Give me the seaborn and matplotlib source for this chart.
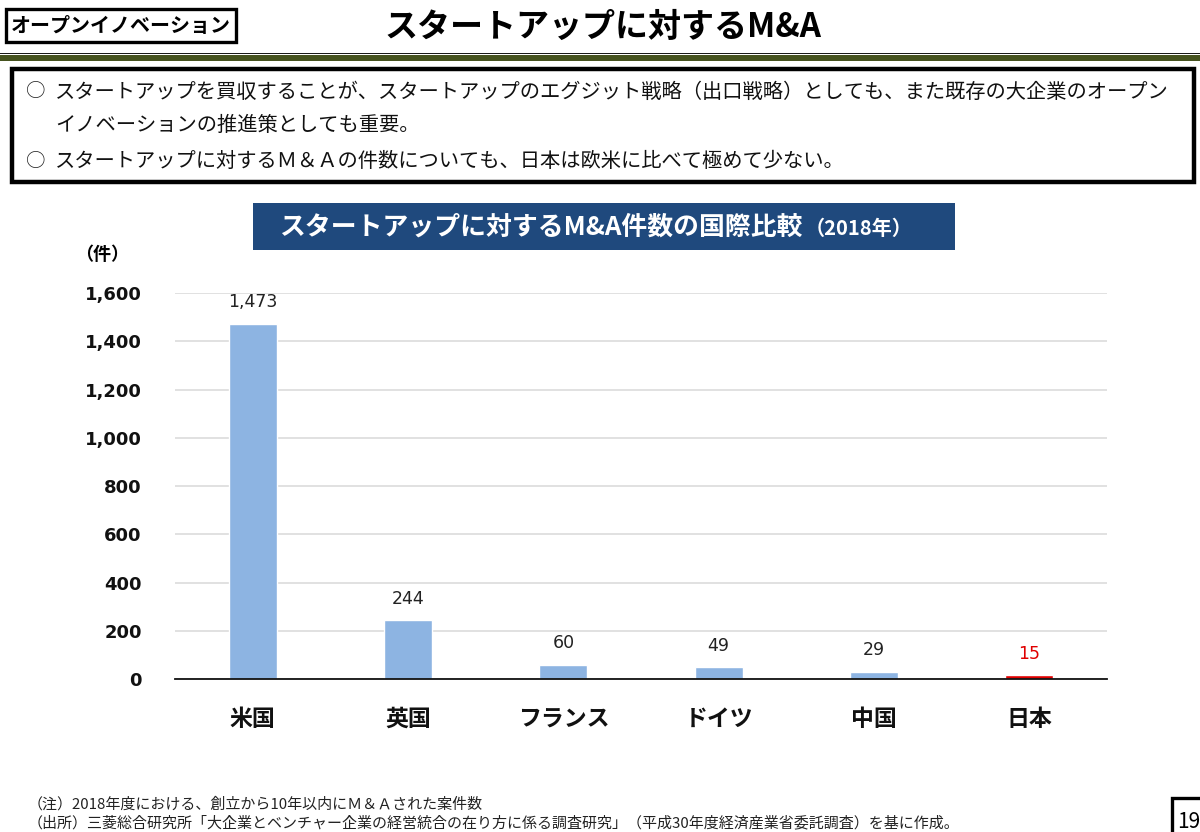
import matplotlib
matplotlib.use("Agg")
import matplotlib.pyplot as plt
import matplotlib.patches as mpatches
import seaborn as sns
import pandas as pd

# ---- data ----
countries = ["米国", "英国", "フランス", "ドイツ", "中国", "日本"]
deals = [1473, 244, 60, 49, 29, 15]
bar_colors = ["#8DB4E2", "#8DB4E2", "#8DB4E2", "#8DB4E2", "#8DB4E2", "#E00000"]
label_colors = ["#222222", "#222222", "#222222", "#222222", "#222222", "#E00000"]
y_ticks = [0, 200, 400, 600, 800, 1000, 1200, 1400, 1600]

header_tag = "オープンイノベーション"
page_title = "スタートアップに対するM&A"
bullets = [
    "スタートアップを買収することが、スタートアップのエグジット戦略（出口戦略）としても、また既存の大企業のオープン",
    "イノベーションの推進策としても重要。",
    "スタートアップに対するＭ＆Ａの件数についても、日本は欧米に比べて極めて少ない。",
]
chart_title = "スタートアップに対するM&A件数の国際比較"
chart_title_year = "（2018年）"
unit_label = "（件）"
notes = [
    "（注）2018年度における、創立から10年以内にＭ＆Ａされた案件数",
    "（出所）三菱総合研究所「大企業とベンチャー企業の経営統合の在り方に係る調査研究」（平成30年度経済産業省委託調査）を基に作成。",
]
page_no = "19"

df = pd.DataFrame({"country": countries, "deals": deals})

sns.set_theme(style="white")
plt.rcParams["font.family"] = ["Noto Sans CJK JP", "DejaVu Sans"]

W, H = 1200, 832
fig = plt.figure(figsize=(W / 100, H / 100), dpi=100)
fig.patch.set_facecolor("white")

def fx(x):
    return x / W

def fy(y):
    return 1 - y / H

def frect(x0, y0, x1, y1, **kw):
    r = mpatches.Rectangle((fx(x0), fy(y1)), fx(x1) - fx(x0), fy(y0) - fy(y1),
                           transform=fig.transFigure, **kw)
    fig.add_artist(r)
    return r

# ---- header ----
frect(6, 9, 236, 42, fill=False, edgecolor="black", linewidth=2.4)
fig.text(fx(121), fy(26), header_tag, ha="center", va="center",
         fontsize=14.4, fontweight="bold", color="black")
fig.text(fx(603), fy(27), page_title, ha="center", va="center",
         fontsize=23.8, fontweight="bold", color="black")
frect(0, 53, 1200, 54.2, facecolor="#1a1a1a", edgecolor="none")
frect(0, 55.5, 1200, 60.5, facecolor="#46531F", edgecolor="none")

# ---- bullet box ----
frect(12, 69, 1194, 182, fill=False, edgecolor="black", linewidth=3.2)
fig.text(fx(36), fy(92), "○", ha="center", va="center", fontsize=14, color="#222222")
fig.text(fx(55), fy(92), bullets[0], ha="left", va="center", fontsize=14.6, color="#111111")
fig.text(fx(55), fy(125), bullets[1], ha="left", va="center", fontsize=14.6, color="#111111")
fig.text(fx(36), fy(161), "○", ha="center", va="center", fontsize=14, color="#222222")
fig.text(fx(55), fy(161), bullets[2], ha="left", va="center", fontsize=14.6, color="#111111")

# ---- chart banner ----
frect(253, 203, 955, 250, facecolor="#1F497D", edgecolor="none")
fig.text(fx(279), fy(227), chart_title, ha="left", va="center",
         fontsize=18.6, fontweight="bold", color="white")
fig.text(fx(805), fy(228), chart_title_year, ha="left", va="center",
         fontsize=14.5, fontweight="bold", color="white")
fig.text(fx(102), fy(254), unit_label, ha="center", va="center",
         fontsize=13, fontweight="bold", color="black")

# ---- chart ----
ax = fig.add_axes([fx(175), fy(679), fx(1107) - fx(175), fy(293) - fy(679)])
sns.barplot(data=df, x="country", y="deals", hue="country", palette=bar_colors,
            legend=False, width=0.31, ax=ax, saturation=1)
ax.set_ylim(0, 1600)
ax.set_xlim(-0.5, len(countries) - 0.5)
ax.set_yticks(y_ticks)
ax.set_yticklabels([f"{v:,}" for v in y_ticks], fontfamily="DejaVu Sans",
                   fontweight="bold", fontsize=13, color="#111111")
ax.set_xticks(range(len(countries)))
ax.set_xticklabels(countries, fontsize=16.5, fontweight="bold", color="#111111")
ax.tick_params(axis="y", length=0, pad=24)
ax.tick_params(axis="x", length=0, pad=21)
ax.set_xlabel("")
ax.set_ylabel("")
ax.yaxis.grid(True, color="#D9D9D9", linewidth=1.1)
ax.set_axisbelow(True)
for s in ["top", "right", "left"]:
    ax.spines[s].set_visible(False)
ax.spines["bottom"].set_color("#111111")
ax.spines["bottom"].set_linewidth(1.3)
ax.set_facecolor("white")

for i, (v, c) in enumerate(zip(deals, label_colors)):
    ax.annotate(f"{v:,}", xy=(i, v), xytext=(0, 15.5), textcoords="offset points",
                ha="center", va="center", fontsize=12.5, color=c,
                fontfamily="DejaVu Sans")

# ---- footnotes ----
fig.text(fx(28), fy(804), notes[0], ha="left", va="center", fontsize=10.8, color="#222222")
fig.text(fx(28), fy(823), notes[1], ha="left", va="center", fontsize=10.8, color="#222222")

# ---- page number ----
frect(1172, 798, 1215, 850, fill=False, edgecolor="black", linewidth=2.4)
fig.text(fx(1177), fy(822), page_no, ha="left", va="center", fontsize=15, color="black")

fig.savefig("out.png", dpi=100, facecolor="white")
